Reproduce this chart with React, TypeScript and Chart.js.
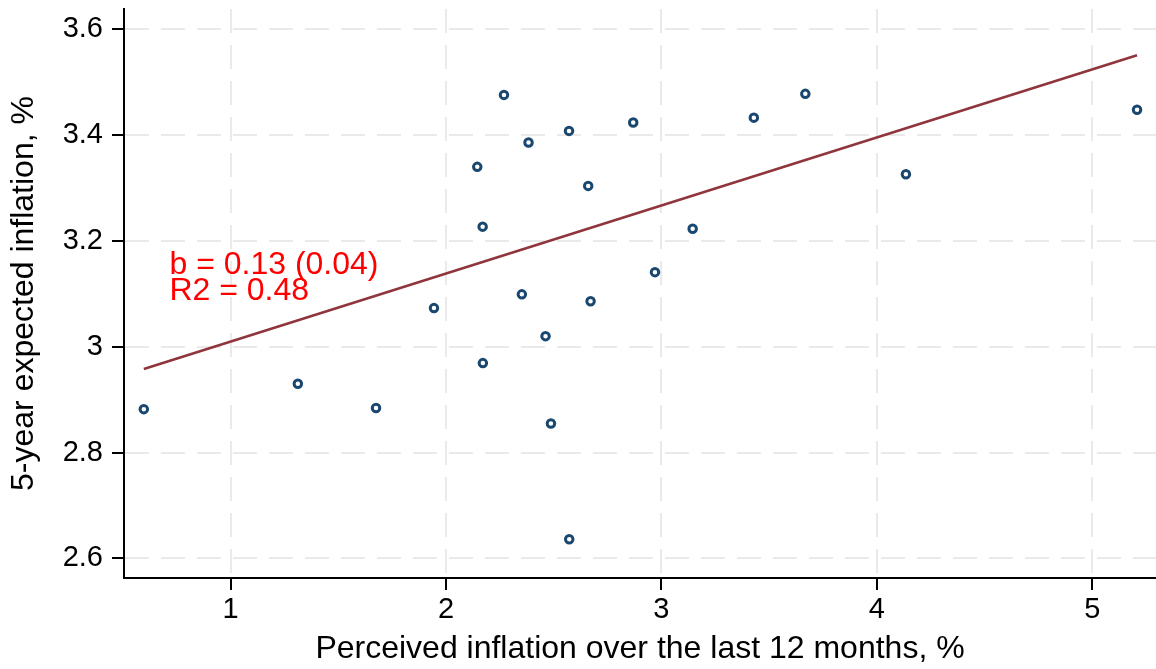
import React, { useEffect, useRef } from "react";
import { Chart, registerables } from "chart.js";

Chart.register(...registerables);

// Data
const perceivedInflation = [0.597, 1.312, 1.675, 1.944, 2.269, 2.145, 2.170, 2.383, 2.571, 2.660, 2.869, 3.145, 2.970, 2.352, 2.671, 2.462, 2.171, 2.487, 2.572, 3.429, 3.668, 4.135, 5.208];
const expectedInflation = [2.882, 2.930, 2.884, 3.073, 3.476, 3.340, 3.227, 3.386, 3.408, 3.304, 3.424, 3.223, 3.141, 3.099, 3.086, 3.020, 2.969, 2.855, 2.636, 3.433, 3.478, 3.326, 3.448];

// Fitted line endpoints
const fitX = [0.597, 5.208];
const fitY = [2.958, 3.551];

const xTicks = [1, 2, 3, 4, 5];
const yTicks = [2.6, 2.8, 3, 3.2, 3.4, 3.6];

const xTitle = "Perceived inflation over the last 12 months, %";
const yTitle = "5-year expected inflation, %";

const annotationLines = ["b = 0.13 (0.04)", "R2 = 0.48"];
const annotationX = 0.716;
const annotationY = [3.137, 3.088];

const FONT = '"Liberation Sans", Arial, Helvetica, sans-serif';

export default function App() {
  const ref = useRef<HTMLCanvasElement | null>(null);

  useEffect(() => {
    const canvas = ref.current;
    if (!canvas) return;

    const annotationPlugin = {
      id: "annot",
      afterDatasetsDraw(chart: any) {
        const ctx = chart.ctx;
        const xs = chart.scales.x;
        const ys = chart.scales.y;
        ctx.save();
        ctx.font = `32px ${FONT}`;
        ctx.fillStyle = "#ff0000";
        ctx.textAlign = "left";
        ctx.textBaseline = "alphabetic";
        annotationLines.forEach((t, i) => {
          ctx.fillText(t, xs.getPixelForValue(annotationX), ys.getPixelForValue(annotationY[i]));
        });
        ctx.restore();
      },
    };

    const chart = new Chart(canvas, {
      type: "scatter",
      data: {
        datasets: [
          {
            type: "scatter",
            data: perceivedInflation.map((x, i) => ({ x, y: expectedInflation[i] })),
            pointStyle: "circle",
            pointRadius: 3.75,
            pointBorderWidth: 3,
            borderColor: "#1a476f",
            backgroundColor: "#ffffff",
            pointBackgroundColor: "#ffffff",
            pointBorderColor: "#1a476f",
          } as any,
          {
            type: "line",
            data: fitX.map((x, i) => ({ x, y: fitY[i] })),
            borderColor: "#90353b",
            borderWidth: 2.5,
            pointRadius: 0,
            fill: false,
          } as any,
        ],
      },
      options: {
        responsive: false,
        animation: false,
        layout: { autoPadding: false, padding: { top: 9, right: 0, left: 0, bottom: 0 } },
        plugins: { legend: { display: false }, tooltip: { enabled: false } },
        scales: {
          x: {
            type: "linear",
            min: 0.505,
            max: 5.296,
            afterBuildTicks: (s: any) => {
              s.ticks = xTicks.map((v) => ({ value: v }));
            },
            afterFit: (s: any) => {
              s.height = 91;
              s.paddingLeft = 0;
              s.paddingRight = 0;
            },
            ticks: {
              font: { family: FONT, size: 29 },
              color: "#000",
              padding: 3,
              maxRotation: 0,
              autoSkip: false,
              callback: (v: any) => String(v),
            },
            grid: {
              color: "#eaeaea",
              lineWidth: 2,
              drawTicks: true,
              tickLength: 12,
              tickColor: "#000",
              tickWidth: 2,
            },
            border: { display: true, color: "#000", width: 2, dash: [24, 12] },
            title: {
              display: true,
              text: xTitle,
              font: { family: FONT, size: 32 },
              color: "#000",
              padding: { top: 0, bottom: 1 },
            },
          },
          y: {
            type: "linear",
            min: 2.5628,
            max: 3.6384,
            afterBuildTicks: (s: any) => {
              s.ticks = yTicks.map((v) => ({ value: v }));
            },
            afterFit: (s: any) => {
              s.width = 124;
              s.paddingTop = 0;
              s.paddingBottom = 0;
            },
            ticks: {
              font: { family: FONT, size: 29 },
              color: "#000",
              padding: 9,
              autoSkip: false,
              callback: (v: any) => String(Number(Number(v).toFixed(1))),
            },
            grid: {
              color: "#eaeaea",
              lineWidth: 2,
              drawTicks: true,
              tickLength: 12,
              tickColor: "#000",
              tickWidth: 2,
            },
            border: { display: true, color: "#000", width: 2, dash: [24, 12] },
            title: {
              display: true,
              text: yTitle,
              font: { family: FONT, size: 32 },
              color: "#000",
              padding: { top: 5, bottom: 0 },
            },
          },
        },
      },
      plugins: [annotationPlugin],
    } as any);

    return () => chart.destroy();
  }, []);

  return (
    <div style={{ position: "absolute", left: 0, top: 0, width: 1156, height: 669, background: "#fff" }}>
      <canvas ref={ref} width={1156} height={669} style={{ display: "block", width: 1156, height: 669 }} />
    </div>
  );
}
